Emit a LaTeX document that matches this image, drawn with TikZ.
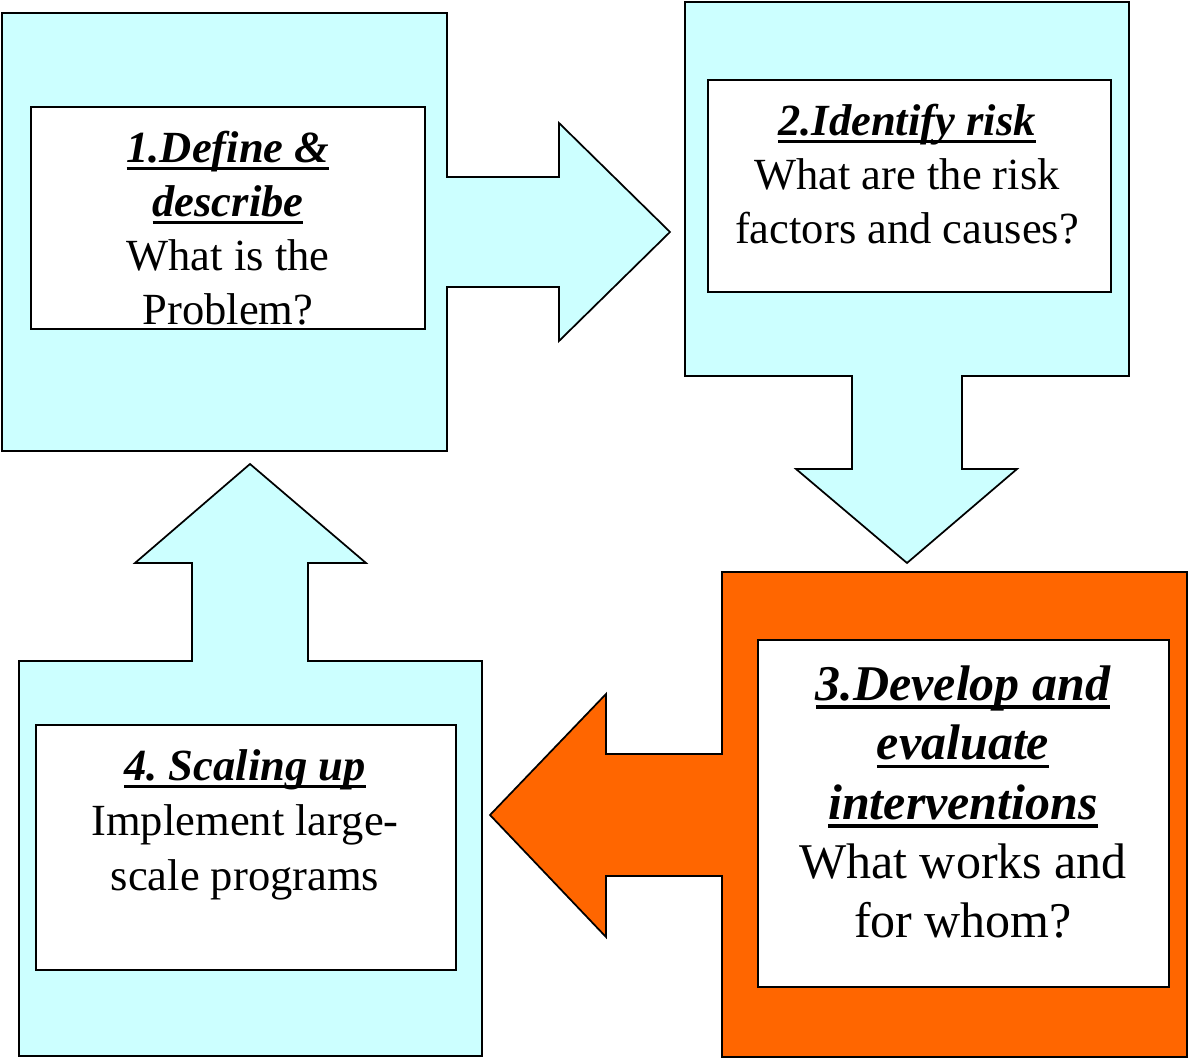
\documentclass[tikz,border=0pt]{standalone}
\usepackage{fontspec}
\setmainfont{Liberation Serif}
\usepackage{xcolor}
\frenchspacing

\definecolor{paleCyan}{RGB}{204,255,255}
\definecolor{stepOrange}{RGB}{255,102,0}

% bold italic heading with a heavy underline
\newcommand{\stephead}[1]{\leavevmode\setbox0=\hbox{\bfseries\itshape #1}\rlap{\rule[-0.17em]{\wd0}{0.065em}}\box0}

\tikzset{
  panel/.style={draw=black, line width=1.3pt, line join=miter},
  textbox/.style={draw=black, fill=white, line width=1.3pt},
  steptext/.style={inner sep=0pt, align=center, font=\fontsize{33.4}{40.5}\selectfont},
}

\begin{document}
\begin{tikzpicture}[x=0.75pt,y=0.75pt,yscale=-1,xscale=1]
    \useasboundingbox (0,0) rectangle (1194,1062);

    %Shape: Box 1 with right arrow
    \draw [panel, fill=paleCyan] (2,13) -- (447,13) -- (447,177) -- (559,177) -- (559,123) -- (670,232) -- (559,341) -- (559,287) -- (447,287) -- (447,451) -- (2,451) -- cycle ;
    %Shape: Box 2 with down arrow
    \draw [panel, fill=paleCyan] (685,2) -- (1129,2) -- (1129,376) -- (962,376) -- (962,469) -- (1017,469) -- (907,563) -- (796,469) -- (852,469) -- (852,376) -- (685,376) -- cycle ;
    %Shape: Box 3 with left arrow
    \draw [panel, fill=stepOrange] (722,572) -- (1187,572) -- (1187,1057) -- (722,1057) -- (722,876) -- (606,876) -- (606,937) -- (490,815) -- (606,694) -- (606,754) -- (722,754) -- cycle ;
    %Shape: Box 4 with up arrow
    \draw [panel, fill=paleCyan] (19,661) -- (192,661) -- (192,563) -- (135,563) -- (250,464) -- (366,563) -- (308,563) -- (308,661) -- (482,661) -- (482,1056) -- (19,1056) -- cycle ;

    %Shape: Rectangles for the texts
    \draw [textbox] (31,107) rectangle (425,329) ;
    \draw [textbox] (708,80) rectangle (1111,292) ;
    \draw [textbox] (758,640) rectangle (1169,987) ;
    \draw [textbox] (36,725) rectangle (456,970) ;

    % Text Node
    \node [steptext] (define) at (228,228) {\stephead{1.Define \&}\\\stephead{describe}\\What is the\\Problem?};
    % Text Node
    \node [steptext] (risk) at (907,174) {\stephead{2.Identify risk}\\What are the risk\\factors and causes?};
    % Text Node
    \node [steptext, font=\fontsize{37.5}{44.6}\selectfont] (develop) at (963,802) {\stephead{3.Develop and}\\\stephead{evaluate}\\\stephead{interventions}\\What works and\\for whom?};
    % Text Node
    \node [steptext, font=\fontsize{33.4}{41.2}\selectfont] (scale) at (245,825) {\stephead{4. Scaling up}\\Implement large-\\scale programs};

\end{tikzpicture}
\end{document}
